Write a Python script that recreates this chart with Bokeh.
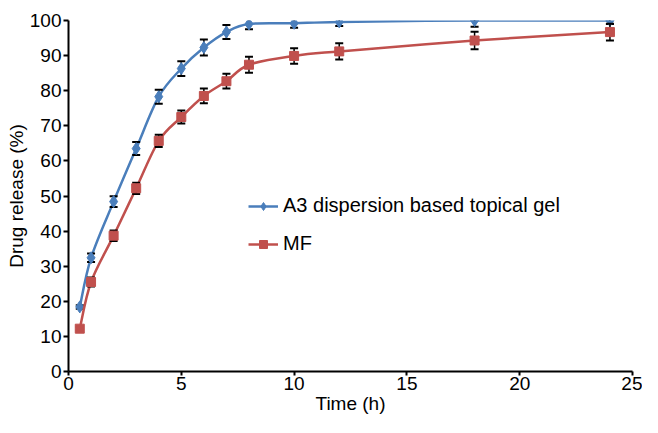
from bokeh.plotting import figure
from bokeh.models import Legend, LegendItem, Range1d, FixedTicker, ColumnDataSource
from bokeh.embed import file_html
from bokeh.resources import INLINE

# ---- data ----
time_h = [0.5, 1, 2, 3, 4, 5, 6, 7, 8, 10, 12, 18, 24]
a3_release = [18.4, 32.4, 48.4, 63.5, 78.3, 86.3, 92.3, 96.7, 99.0, 99.2, 99.6, 100.0, 100.0]
a3_error = [0.5, 1.2, 1.5, 1.85, 2.0, 2.1, 2.3, 2.0, 1.5, 1.3, 1.2, 1.8, 1.0]
mf_release = [12.2, 25.5, 38.7, 52.2, 65.7, 72.5, 78.5, 82.7, 87.4, 89.9, 91.2, 94.3, 96.7]
mf_error = [0.5, 1.3, 1.5, 1.6, 1.75, 1.85, 2.1, 2.1, 2.3, 2.2, 2.3, 2.5, 2.4]
x_ticks = [0, 5, 10, 15, 20, 25]
y_ticks = [0, 10, 20, 30, 40, 50, 60, 70, 80, 90, 100]
labels = ["A3 dispersion based topical gel", "MF"]

BLUE = "#4a7ebb"
RED = "#c0504d"
FONT = "Liberation Sans"


def smooth_segments(xs, ys):
    """Catmull-Rom style cubic Bezier segments through the data points."""
    n = len(xs)
    d = dict(x0=[], y0=[], x1=[], y1=[], cx0=[], cy0=[], cx1=[], cy1=[])
    for i in range(n - 1):
        xp, yp = (xs[i - 1], ys[i - 1]) if i > 0 else (xs[i], ys[i])
        xn, yn = (xs[i + 2], ys[i + 2]) if i + 2 < n else (xs[i + 1], ys[i + 1])
        d["x0"].append(xs[i]); d["y0"].append(ys[i])
        d["x1"].append(xs[i + 1]); d["y1"].append(ys[i + 1])
        d["cx0"].append(xs[i] + (xs[i + 1] - xp) / 6.0)
        d["cy0"].append(ys[i] + (ys[i + 1] - yp) / 6.0)
        d["cx1"].append(xs[i + 1] - (xn - xs[i]) / 6.0)
        d["cy1"].append(ys[i + 1] - (yn - ys[i]) / 6.0)
    return ColumnDataSource(d)


p = figure(width=642, height=417, output_backend="svg", toolbar_location=None,
           x_range=Range1d(0, 25), y_range=Range1d(0, 100),
           min_border_left=68, min_border_right=10, min_border_top=20, min_border_bottom=46)
p.background_fill_color = "white"
p.border_fill_color = "white"
p.outline_line_color = None
p.xgrid.visible = False
p.ygrid.visible = False

for ax in (p.xaxis[0], p.yaxis[0]):
    ax.axis_line_color = "black"
    ax.axis_line_width = 2
    ax.major_tick_line_color = "black"
    ax.major_tick_line_width = 2
    ax.minor_tick_line_color = None
    ax.major_tick_in = 0
    ax.major_label_text_font = FONT
    ax.major_label_text_font_size = "19px"
    ax.major_label_text_color = "black"
    ax.axis_label_text_font = FONT
    ax.axis_label_text_font_size = "19px"
    ax.axis_label_text_font_style = "normal"
    ax.axis_label_text_color = "black"

p.xaxis[0].ticker = FixedTicker(ticks=x_ticks)
p.yaxis[0].ticker = FixedTicker(ticks=y_ticks)
p.xaxis[0].major_tick_out = 4
p.yaxis[0].major_tick_out = 5
p.xaxis[0].major_label_standoff = 1
p.yaxis[0].major_label_standoff = 2
p.xaxis[0].axis_label = "Time (h)"
p.yaxis[0].axis_label = "Drug release (%)"
p.xaxis[0].axis_label_standoff = 0
p.yaxis[0].axis_label_standoff = 0

items = []
for ys, errs, color, marker, msize, label in [
    (a3_release, a3_error, BLUE, "diamond", 12, labels[0]),
    (mf_release, mf_error, RED, "square", 9, labels[1]),
]:
    curve = p.bezier(x0="x0", y0="y0", x1="x1", y1="y1", cx0="cx0", cy0="cy0",
                     cx1="cx1", cy1="cy1", source=smooth_segments(time_h, ys),
                     line_color=color, line_width=2.5)
    lo = [y - e for y, e in zip(ys, errs)]
    hi = [y + e for y, e in zip(ys, errs)]
    p.segment(x0=time_h, y0=lo, x1=time_h, y1=hi, line_color="black", line_width=1.5)
    p.scatter(x=time_h, y=lo, marker="dash", size=8, line_color="black", line_width=2)
    p.scatter(x=time_h, y=hi, marker="dash", size=8, line_color="black", line_width=2)
    pts = p.scatter(x=time_h, y=ys, marker=marker, size=msize, fill_color=color,
                    line_color=color)
    items.append(LegendItem(label=label, renderers=[curve, pts]))

legend = Legend(items=items, location=(180, 116), orientation="vertical",
                border_line_color=None, background_fill_alpha=0,
                label_text_font=FONT, label_text_font_size="20px",
                label_text_color="black", glyph_width=30, glyph_height=20,
                label_height=20, spacing=15, padding=0, margin=0,
                label_standoff=5)
p.add_layout(legend, "center")

open("out.html", "w").write(file_html(p, INLINE))
